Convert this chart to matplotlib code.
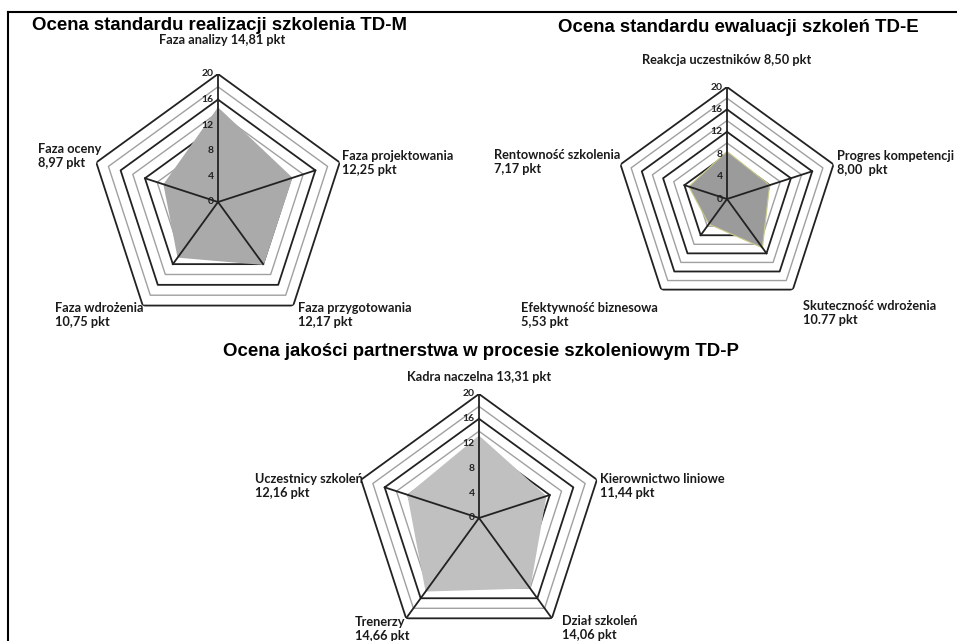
import numpy as np
import matplotlib.pyplot as plt
from matplotlib.lines import Line2D

W, H = 957, 641

# --- TD-M ---
m_labels = ['Faza analizy', 'Faza projektowania', 'Faza przygotowania', 'Faza wdrożenia', 'Faza oceny']
m_values = [14.81, 12.25, 12.17, 10.75, 8.97]

# --- TD-E ---
e_labels = ['Reakcja uczestników', 'Progres kompetencji', 'Skuteczność wdrożenia',
            'Efektywność biznesowa', 'Rentowność szkolenia']
e_values = [8.50, 8.00, 10.77, 5.53, 7.17]
e_sep = [',', ',', '.', ',', ',']

# --- TD-P ---
p_labels = ['Kadra naczelna', 'Kierownictwo liniowe', 'Dział szkoleń', 'Trenerzy', 'Uczestnicy szkoleń']
p_values = [13.31, 11.44, 14.06, 14.66, 12.16]

ticks = [0, 4, 8, 12, 16, 20]

lab_font = ['Lato', 'DejaVu Sans']
title_font = ['Liberation Sans', 'DejaVu Sans']

fig = plt.figure(figsize=(W / 100, H / 100), dpi=100)


def px(x, y):
    return x / W, 1 - y / H


def fmt(v, sep=','):
    return f'{v:.2f}'.replace('.', sep)


def radar(cx, cy, r, values, spokes, fill, edge=None):
    ax = fig.add_axes([(cx - r) / W, (H - cy - r) / H, 2 * r / W, 2 * r / H], projection='polar')
    ax.set_theta_offset(np.pi / 2)
    ax.set_theta_direction(-1)
    ax.set_ylim(0, 20)
    ax.axis('off')
    ang = np.linspace(0, 2 * np.pi, 6)
    for lev in range(2, 21, 2):
        major = lev % 4 == 0
        ax.plot(ang, [lev] * 6, color='#222222' if major else '#a0a0a0',
                lw=1.3 if major else 1.0, zorder=2)
    vals = list(values) + [values[0]]
    ax.fill(ang, vals, color=fill, zorder=3, lw=0)
    if edge:
        ax.plot(ang, vals, color=edge, lw=0.8, zorder=3)
    for a, s in zip(ang[:-1], spokes):
        ax.plot([a, a], [0, s], color='#222222', lw=1.3, zorder=4)
    for t in ticks:
        ax.annotate(str(t), (0, t), xytext=(-3, 0), textcoords='offset points',
                    ha='right', va='center', fontsize=7.5, fontweight='bold',
                    family=lab_font, color='#222222', zorder=5)
    return ax


def label(x, y, s, ha='left', va='center'):
    fig.text(*px(x, y), s, ha=ha, va=va, fontsize=9.2, fontweight='bold',
             family=lab_font, color='#1a1a1a', linespacing=1.2)


def title(x, y, s, ha='left'):
    fig.text(*px(x, y), s, ha=ha, va='center', fontsize=13.4, fontweight='bold',
             family=title_font, color='black')


# TD-M
title(32, 25, 'Ocena standardu realizacji szkolenia TD-M')
radar(218, 202, 128, m_values, [20, 16, 12, 12, 12], '#aaaaaa')
label(222, 40, f'{m_labels[0]} {fmt(m_values[0])} pkt', ha='center')
label(342, 163, f'{m_labels[1]}\n{fmt(m_values[1])} pkt')
label(298, 315, f'{m_labels[2]}\n{fmt(m_values[2])} pkt')
label(55, 315, f'{m_labels[3]}\n{fmt(m_values[3])} pkt')
label(38, 156, f'{m_labels[4]}\n{fmt(m_values[4])} pkt')

# TD-E
title(558, 27, 'Ocena standardu ewaluacji szkoleń TD-E')
radar(727, 199, 112, e_values, [20, 16, 12, 8, 8], '#9b9b9b', edge='#c9c98a')
label(727, 60, f'{e_labels[0]} {fmt(e_values[0], e_sep[0])} pkt', ha='center')
label(837, 163, f'{e_labels[1]}\n{fmt(e_values[1], e_sep[1])}  pkt')
label(803, 313, f'{e_labels[2]}\n{fmt(e_values[2], e_sep[2])} pkt')
label(521, 315, f'{e_labels[3]}\n{fmt(e_values[3], e_sep[3])} pkt')
label(494, 162, f'{e_labels[4]}\n{fmt(e_values[4], e_sep[4])} pkt')

# TD-P
title(481, 352, 'Ocena jakości partnerstwa w procesie szkoleniowym TD-P', ha='center')
radar(479, 518, 124, p_values, [20, 12, 20, 20, 16], '#c0c0c0')
label(479, 377, f'{p_labels[0]} {fmt(p_values[0])} pkt', ha='center')
label(600, 486, f'{p_labels[1]}\n{fmt(p_values[1])} pkt')
label(562, 628, f'{p_labels[2]}\n{fmt(p_values[2])} pkt')
label(355, 629, f'{p_labels[3]}\n{fmt(p_values[3])} pkt')
label(255, 486, f'{p_labels[4]}\n{fmt(p_values[4])} pkt')

# frame: top and left edges
fig.add_artist(Line2D([8 / W, 1], [1 - 12 / H] * 2, color='black', lw=1.5))
fig.add_artist(Line2D([8 / W] * 2, [1 - 12 / H, 0], color='black', lw=1.5))

fig.savefig('out.png', dpi=100)
